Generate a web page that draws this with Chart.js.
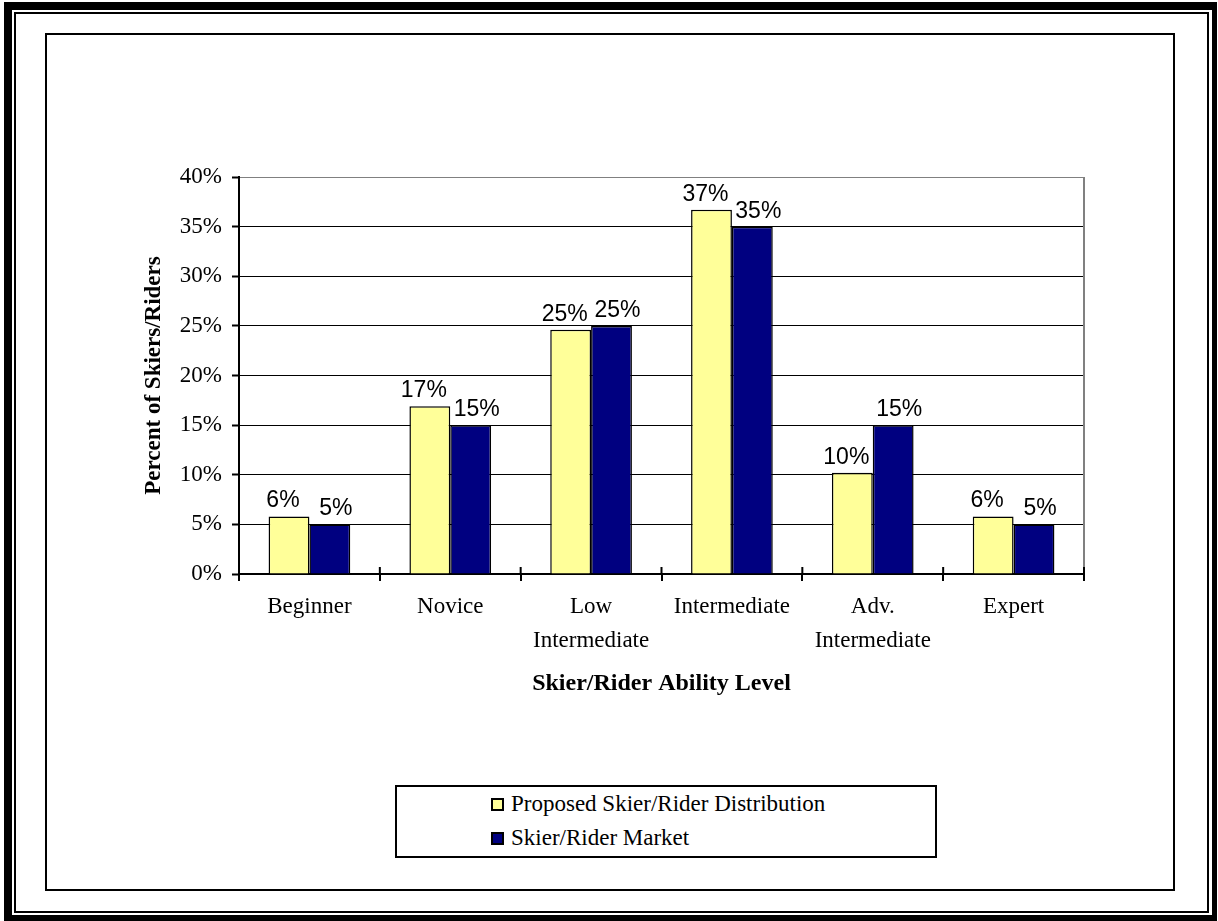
<!DOCTYPE html>
<html>
<head>
<meta charset="utf-8">
<title>Skier/Rider Ability Level</title>
<script src="https://cdn.jsdelivr.net/npm/chart.js"></script>
<style>
  body { margin: 0; background: #fff; }
  #page { position: relative; width: 1218px; height: 921px; overflow: hidden; background: #fff; }
  .frame { position: absolute; box-sizing: border-box; border-style: solid; border-color: #000; }
  #outer { left: 4px; top: 2px; width: 1213px; height: 919px; border-width: 8px 5px 6px 8px; }
  #thin { left: 14px; top: 12px; width: 1195px; height: 901px; border-width: 2px; }
  #inner { left: 45px; top: 33px; width: 1130px; height: 858px; border-width: 2px; }
  #wrap { position: absolute; left: 47px; top: 35px; width: 1126px; height: 854px; }
  #legend {
    position: absolute; left: 395px; top: 785px; width: 542px; height: 73px;
    box-sizing: border-box; border: 2px solid #000; background: #fff;
    font-family: "Liberation Serif", "Times New Roman", serif; font-size: 23px; color: #000;
  }
  .row { position: absolute; left: 94px; height: 34px; display: flex; align-items: center; white-space: nowrap; }
  .box { width: 13px; height: 13px; box-sizing: border-box; border: 2px solid #000; margin-right: 7px; }
</style>
</head>
<body>
<div id="page">
  <div class="frame" id="outer"></div>
  <div class="frame" id="thin"></div>
  <div class="frame" id="inner"></div>
  <div id="wrap"><canvas id="mycanvas"></canvas></div>
  <div id="legend"></div>
</div>
<script>
// data
var levels = [['Beginner'], ['Novice'], ['Low', 'Intermediate'], ['Intermediate'], ['Adv.', 'Intermediate'], ['Expert']];
var proposed = [5.8, 16.9, 24.6, 36.7, 10.2, 5.8];
var market = [5, 15, 25, 35, 15, 5];
var seriesNames = ['Proposed Skier/Rider Distribution', 'Skier/Rider Market'];
var yMax = 40;
var yStep = 5;

var serif = '"Liberation Serif", "Times New Roman", serif';

// value labels above the bars, plus the gray plot border on the right
var barLabels = {
	id: 'barLabels',
	beforeDatasetsDraw: function(chart) {
		var ctx = chart.ctx, area = chart.chartArea;
		ctx.save();
		ctx.strokeStyle = '#808080';
		ctx.lineWidth = 2;
		ctx.beginPath();
		ctx.moveTo(area.right, area.top);
		ctx.lineTo(area.right, area.bottom);
		ctx.stroke();
		// tick marks poke up into the plot too
		var xs = chart.scales.x;
		ctx.strokeStyle = '#000';
		ctx.beginPath();
		for (var i = 0; i <= levels.length; i++) {
			var px;
			if (i === 0) px = area.left;
			else if (i === levels.length) px = area.right;
			else px = (xs.getPixelForTick(i - 1) + xs.getPixelForTick(i)) / 2;
			ctx.moveTo(px, area.bottom);
			ctx.lineTo(px, area.bottom - 7);
		}
		ctx.stroke();
		ctx.restore();
	},
	afterDatasetsDraw: function(chart) {
		var ctx = chart.ctx;
		ctx.save();
		ctx.font = '23px "Liberation Sans", Arial, sans-serif';
		ctx.fillStyle = '#000';
		ctx.textAlign = 'center';
		ctx.textBaseline = 'alphabetic';
		chart.data.datasets.forEach(function(ds, i) {
			// nudge the pair apart a little so side by side labels don't touch
			var nudge = i === 0 ? -6 : 6;
			chart.getDatasetMeta(i).data.forEach(function(bar, j) {
				ctx.fillText(Math.round(ds.data[j]) + '%', bar.x + nudge, bar.y - 9);
			});
		});
		ctx.restore();
	}
};

var chartdata = {
	labels: levels,
	datasets: [
		{
			label: seriesNames[0],
			backgroundColor: '#FFFF99',
			borderColor: '#000',
			borderWidth: 1.5,
			data: proposed
		},
		{
			label: seriesNames[1],
			backgroundColor: '#000080',
			borderColor: '#000',
			borderWidth: 1.5,
			data: market
		}
	]
};

var ctx = document.getElementById('mycanvas');

var barGraph = new Chart(ctx, {
	type: 'bar',
	data: chartdata,
	plugins: [barLabels],
	options: {
		responsive: true,
		maintainAspectRatio: false,
		animation: false,
		layout: { padding: { left: 80, right: 89, top: 142, bottom: 191 } },
		datasets: { bar: { barPercentage: 1, categoryPercentage: 0.58 } },
		plugins: {
			legend: { display: false },
			tooltip: { enabled: false }
		},
		scales: {
			x: {
				afterFit: function(scale) { scale.height = 124; },
				grid: { drawOnChartArea: false, tickLength: 7, color: '#000', lineWidth: 2 },
				border: { color: '#000', width: 2 },
				ticks: {
					color: '#000', padding: 9, maxRotation: 0, autoSkip: false,
					font: { family: serif, size: 23, lineHeight: 1.48 }
				},
				title: {
					display: true, text: 'Skier/Rider Ability Level', color: '#000',
					padding: { top: 0, bottom: 0 },
					font: { family: serif, size: 24, weight: 'bold' }
				}
			},
			y: {
				min: 0,
				max: yMax,
				afterFit: function(scale) { scale.width = 112; },
				grid: {
					color: function(c) { return c.tick && c.tick.value === yMax ? '#808080' : '#000'; },
					lineWidth: 1, tickLength: 7, tickColor: '#000', tickWidth: 2
				},
				border: { color: '#000', width: 2 },
				ticks: {
					stepSize: yStep, color: '#000', padding: 10,
					font: { family: serif, size: 23 },
					callback: function(v) { return v + '%'; }
				},
				title: {
					display: true, text: 'Percent of Skiers/Riders', color: '#000',
					padding: { top: 13, bottom: 0 },
					font: { family: serif, size: 23, weight: 'bold' }
				}
			}
		}
	}
});

// legend box below the chart, built from the datasets
var legend = document.getElementById('legend');
barGraph.data.datasets.forEach(function(ds, i) {
	var row = document.createElement('div');
	row.className = 'row';
	row.style.top = (i * 34) + 'px';
	var box = document.createElement('span');
	box.className = 'box';
	box.style.background = ds.backgroundColor;
	row.appendChild(box);
	row.appendChild(document.createTextNode(ds.label));
	legend.appendChild(row);
});
</script>
</body>
</html>
